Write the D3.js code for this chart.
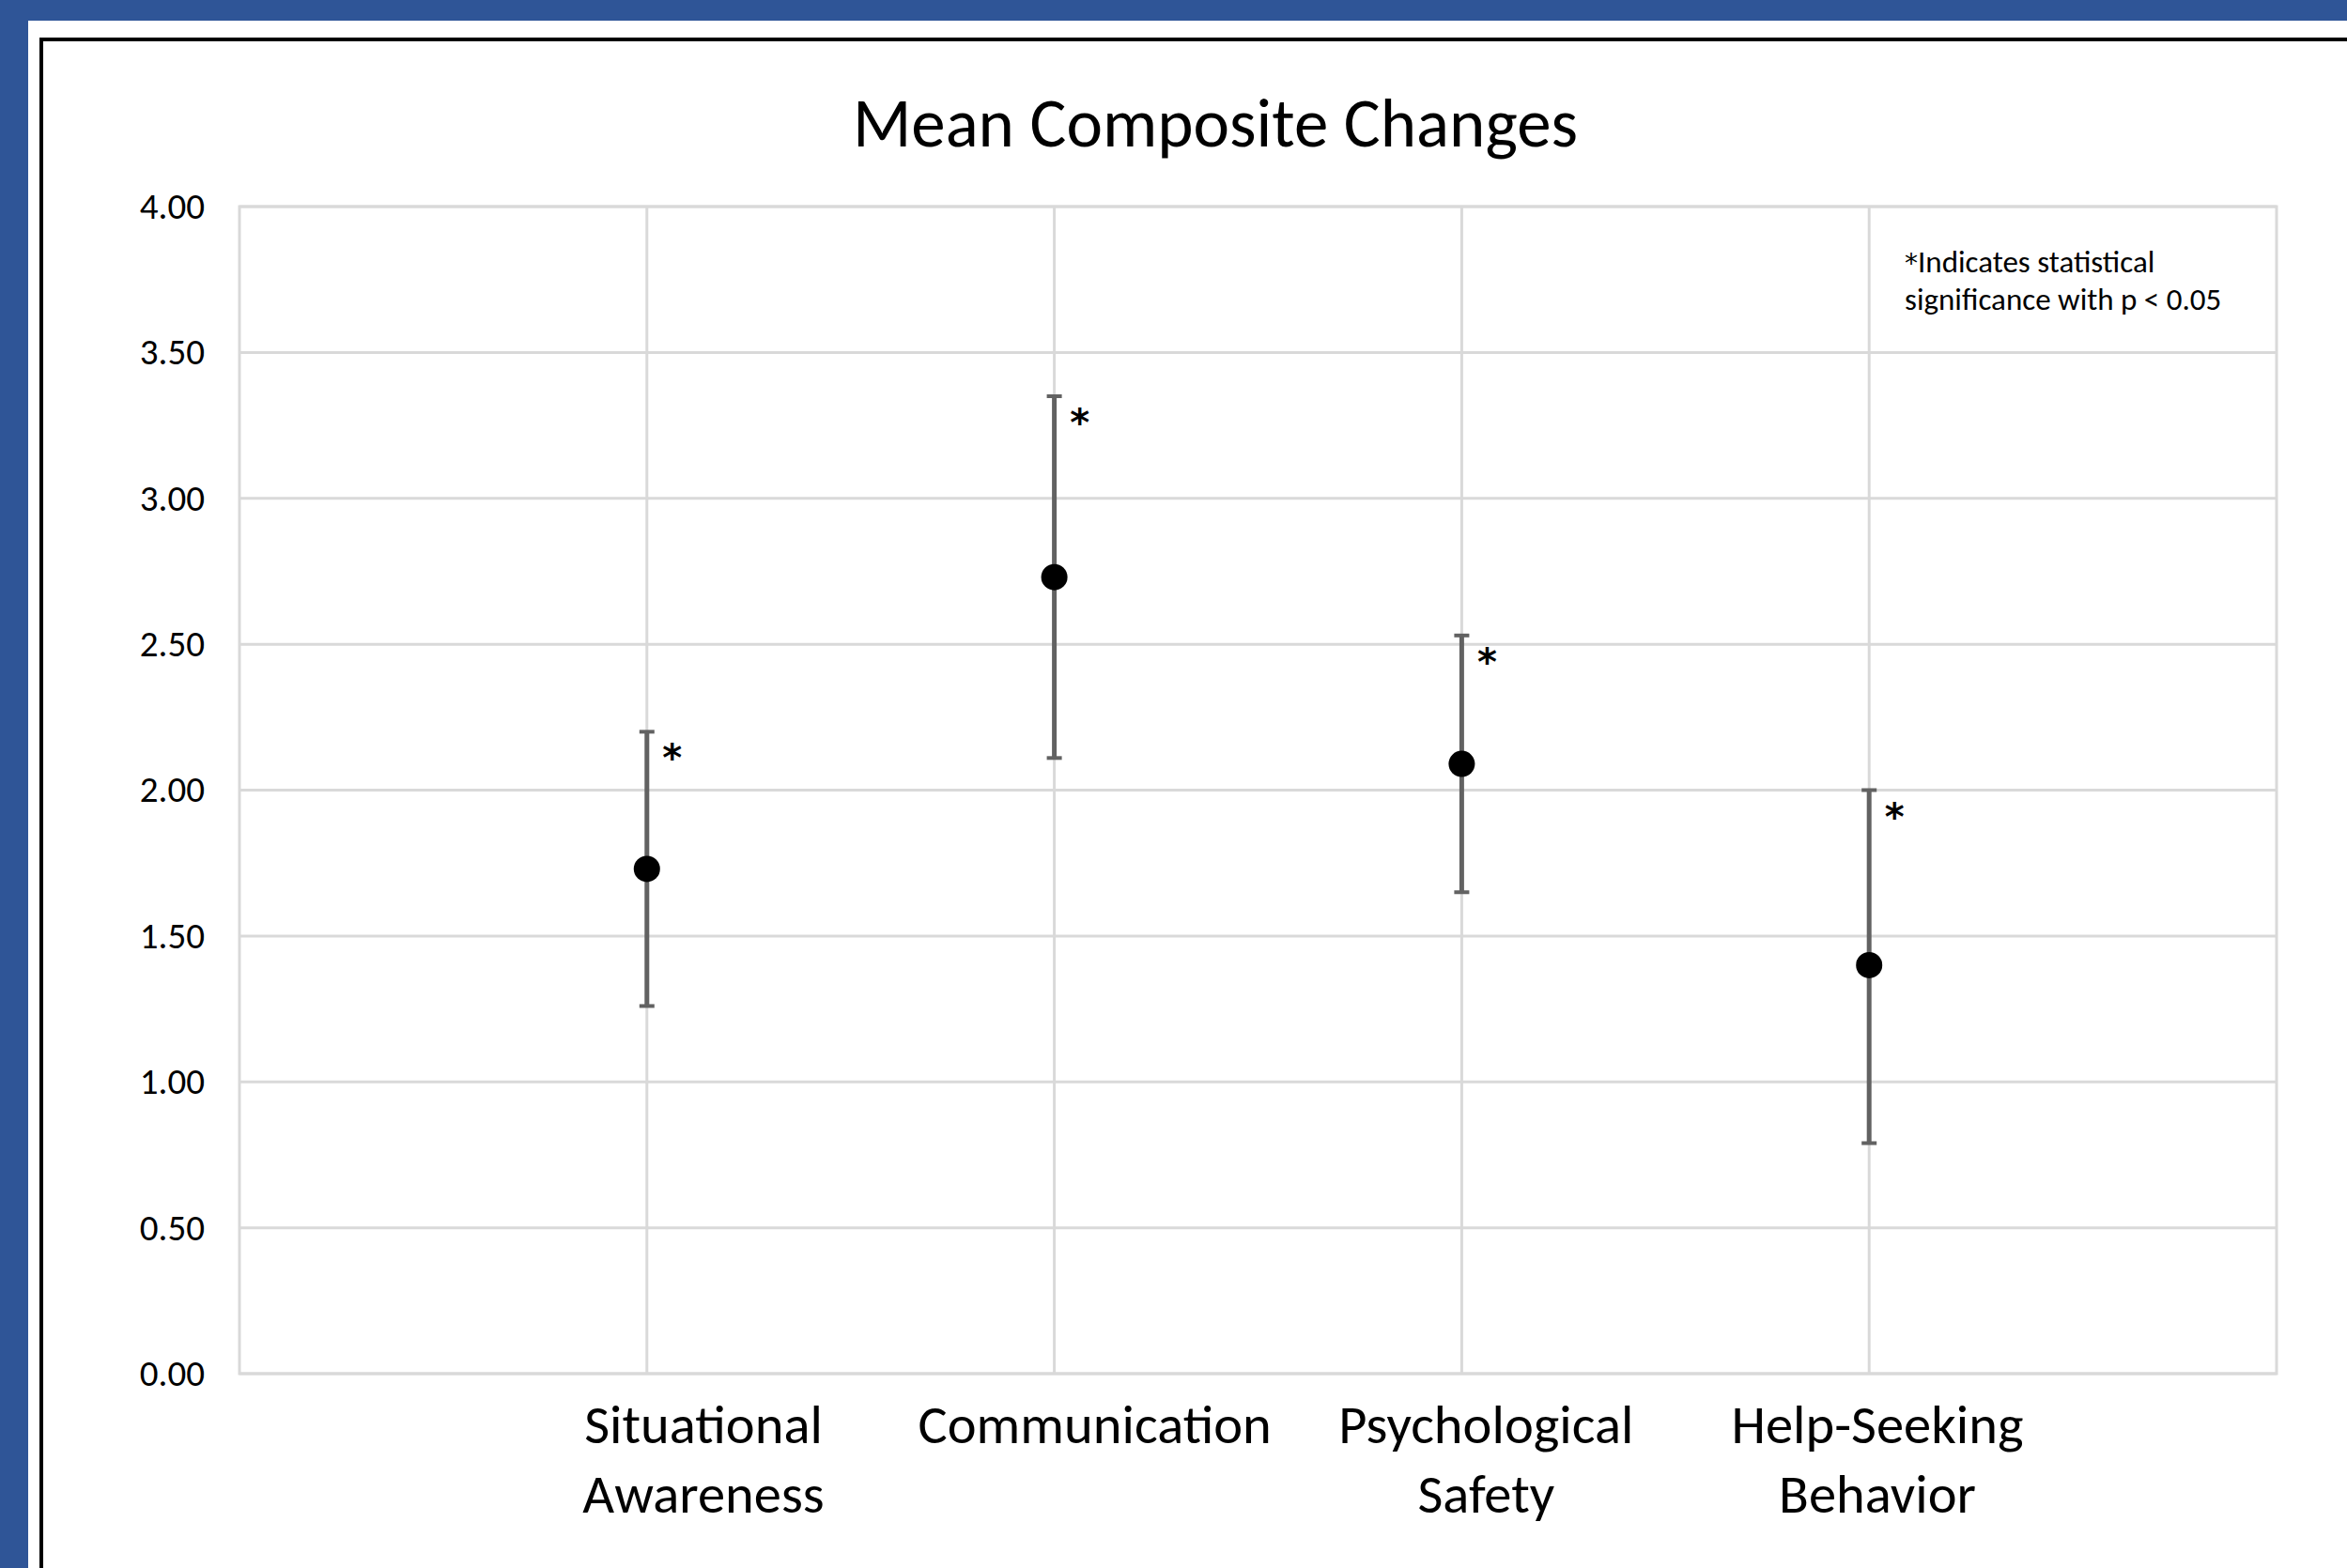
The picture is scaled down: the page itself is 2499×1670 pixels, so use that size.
<!DOCTYPE html>
<html>
<head>
<meta charset="utf-8">
<script src="https://cdn.jsdelivr.net/npm/d3@7"></script>
<style>
  html, body { margin: 0; padding: 0; background: #2F5597; }
  svg { display: block; }
  text { font-family: Carlito, Calibri, Lato, "Open Sans", sans-serif; fill: #000; }
</style>
</head>
<body>
<svg id="chart" width="2499" height="1670"></svg>
<script>
// ---- data ----
const categories = ["Situational Awareness", "Communication", "Psychological Safety", "Help-Seeking Behavior"];
const labelLines = [["Situational", "Awareness"], ["Communication"], ["Psychological", "Safety"], ["Help-Seeking", "Behavior"]];
const means = [1.73, 2.73, 2.09, 1.40];
const upper = [2.20, 3.35, 2.53, 2.00];
const lower = [1.26, 2.11, 1.65, 0.79];
const significant = [true, true, true, true];
const yTicks = [0, 0.5, 1, 1.5, 2, 2.5, 3, 3.5, 4];
const xPositions = [1, 2, 3, 4];
const titleText = "Mean Composite Changes";
const noteLines = ["Indicates statistical", "significance with p < 0.05"];

// ---- layout ----
const W = 2499, H = 1670;
const plot = { left: 255, right: 2424, top: 220, bottom: 1463 };
const svg = d3.select("#chart");

// background frame
svg.append("rect").attr("x", 0).attr("y", 0).attr("width", W).attr("height", H).attr("fill", "#2F5597");
svg.append("rect").attr("x", 30).attr("y", 22).attr("width", W - 30).attr("height", H - 22).attr("fill", "#ffffff");
svg.append("line").attr("x1", 42).attr("x2", W).attr("y1", 42).attr("y2", 42).attr("stroke", "#000").attr("stroke-width", 4);
svg.append("line").attr("x1", 44).attr("x2", 44).attr("y1", 40).attr("y2", H).attr("stroke", "#000").attr("stroke-width", 4);

const x = d3.scaleLinear().domain([0, 5]).range([plot.left, plot.right]);
const y = d3.scaleLinear().domain([0, 4]).range([plot.bottom, plot.top]);

const gridColor = "#d9d9d9";
// horizontal gridlines
svg.append("g").selectAll("line").data(yTicks).join("line")
  .attr("x1", plot.left).attr("x2", plot.right)
  .attr("y1", d => y(d)).attr("y2", d => y(d))
  .attr("stroke", gridColor).attr("stroke-width", 3);
// vertical gridlines
svg.append("g").selectAll("line").data(xPositions).join("line")
  .attr("x1", d => x(d)).attr("x2", d => x(d))
  .attr("y1", plot.top).attr("y2", plot.bottom)
  .attr("stroke", gridColor).attr("stroke-width", 3);
// plot border
svg.append("rect").attr("x", plot.left).attr("y", plot.top)
  .attr("width", plot.right - plot.left).attr("height", plot.bottom - plot.top)
  .attr("fill", "none").attr("stroke", gridColor).attr("stroke-width", 3);

// y axis labels
const yAxis = d3.axisLeft(y).tickValues(yTicks).tickFormat(d3.format(".2f")).tickSize(0).tickPadding(37);
const gy = svg.append("g").attr("transform", `translate(${plot.left},0)`).call(yAxis);
gy.select(".domain").remove();
gy.selectAll("text").attr("font-size", 39).attr("fill", "#000")
  .style("font-family", "Carlito, Calibri, Lato, sans-serif");

// error bars
const barColor = "#626262";
const pts = categories.map((c, i) => ({ c, x: xPositions[i], m: means[i], lo: lower[i], hi: upper[i], sig: significant[i] }));
const eb = svg.append("g");
eb.selectAll("line.bar").data(pts).join("line").attr("class", "bar")
  .attr("x1", d => x(d.x)).attr("x2", d => x(d.x))
  .attr("y1", d => y(d.lo)).attr("y2", d => y(d.hi))
  .attr("stroke", barColor).attr("stroke-width", 5);
["lo", "hi"].forEach(k => {
  eb.selectAll("line.cap-" + k).data(pts).join("line").attr("class", "cap-" + k)
    .attr("x1", d => x(d.x) - 8).attr("x2", d => x(d.x) + 8)
    .attr("y1", d => y(d[k])).attr("y2", d => y(d[k]))
    .attr("stroke", barColor).attr("stroke-width", 4);
});
// markers
svg.append("g").selectAll("circle").data(pts).join("circle")
  .attr("cx", d => x(d.x)).attr("cy", d => y(d.m)).attr("r", 14).attr("fill", "#000");

// significance asterisks
svg.append("g").selectAll("text").data(pts.filter(d => d.sig)).join("text")
  .attr("x", d => x(d.x) + 27).attr("y", d => y(d.hi) + 42)
  .attr("text-anchor", "middle").attr("font-size", 40).attr("font-weight", "bold")
  .style("font-family", "'DejaVu Sans', sans-serif").text("*");

// x category labels
const lx = d3.scalePoint().domain(categories).range([749, 1999]);
const xl = svg.append("g").selectAll("text").data(categories).join("text")
  .attr("x", d => lx(d)).attr("y", 1537).attr("text-anchor", "middle").attr("font-size", 58.5);
xl.each(function(d, i) {
  const t = d3.select(this);
  labelLines[i].forEach((ln, j) => {
    t.append("tspan").attr("x", lx(d)).attr("dy", j === 0 ? 0 : 74).text(ln);
  });
});

// title
svg.append("text").attr("x", 1294).attr("y", 156).attr("text-anchor", "middle")
  .attr("font-size", 73).text(titleText);

// note
const note = svg.append("text").attr("x", 2028).attr("y", 290).attr("font-size", 33);
note.append("tspan").style("font-family", "'DejaVu Sans', sans-serif").attr("font-size", 28).text("*");
note.append("tspan").text(noteLines[0]);
note.append("tspan").attr("x", 2028).attr("dy", 40).text(noteLines[1]);
</script>
</body>
</html>
